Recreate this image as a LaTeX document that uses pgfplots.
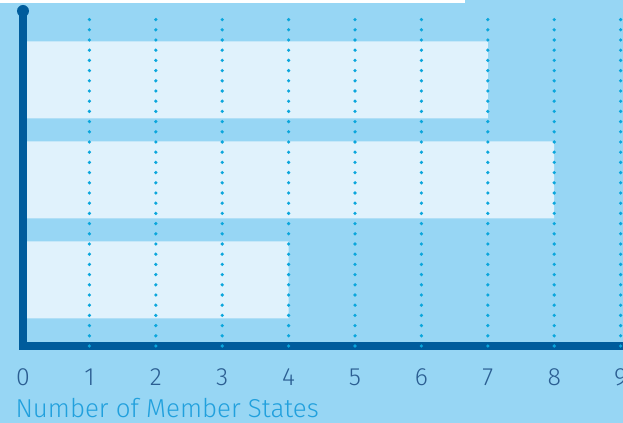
\documentclass[border=0pt]{standalone}
\usepackage{fontspec}
\setmainfont{Fira Sans}[UprightFont={* Light}]
\usepackage{pgfplots}
\pgfplotsset{compat=1.18}
\definecolor{bgc}{HTML}{97D6F4}
\definecolor{barc}{HTML}{E0F2FC}
\definecolor{gridc}{HTML}{0AA6DC}
\definecolor{axisc}{HTML}{005C9C}
\definecolor{tickc}{HTML}{2B5E92}
\definecolor{labelc}{HTML}{21A0DD}
\begin{document}
\begin{tikzpicture}
\useasboundingbox (0,0) rectangle (623bp,423bp);
\clip (0,0) rectangle (623bp,423bp);
\fill[bgc] (0,0) rectangle (623bp,423bp);
\fill[white] (0,419.5bp) rectangle (465bp,423bp);
\begin{axis}[
  at={(23bp,77bp)}, anchor=south west,
  scale only axis, width=600bp, height=335bp,
  xmin=0, xmax=9.036, ymin=0, ymax=3.35,
  axis line style={draw=none},
  xtick={1,...,9}, ytick=\empty,
  extra x ticks={0}, extra tick style={grid=none},
  major tick length=0pt,
  xmajorgrids,
  grid style={gridc, line width=3.6bp, line cap=round, dash pattern=on 0pt off 10.2bp},
  axis on top,
  xticklabel style={font=\fontsize{25}{25}\selectfont, text=tickc, anchor=base, yshift=-39bp},
  /pgf/number format/assume math mode=true,
  xlabel={Number of Member States},
  xlabel style={at={(axis description cs:0,0)}, anchor=base west, xshift=-11bp, yshift=-71bp,
    font=\fontsize{26}{26}\selectfont, text=labelc},
  clip=false,
]
\addplot[xbar, bar width=0.77, bar shift=0pt, fill=barc, draw=none]
  coordinates {(7,2.66) (8,1.66) (4,0.66)};
\draw[axisc, line width=7.5bp, line join=miter] (axis cs:0,3.35) -- (axis cs:0,0) -- (axis cs:9.3,0);
\fill[axisc] (axis cs:0,3.35) circle[radius=6bp];
\end{axis}
\end{tikzpicture}
\end{document}
